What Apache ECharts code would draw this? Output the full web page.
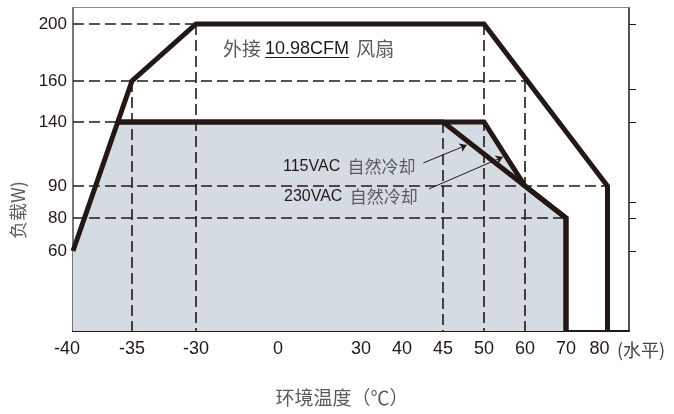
<!DOCTYPE html>
<html><head><meta charset="utf-8">
<script src="https://cdn.jsdelivr.net/npm/echarts@6/dist/echarts.min.js"></script>
<style>html,body{margin:0;padding:0;background:#fff}#c{width:674px;height:414px}</style>
</head><body><div id="c"></div>
<script>
// ---------- data ----------
const xTickLabels = [-40, -35, -30, 0, 30, 40, 45, 50, 60, 70, 80];
const xMinorTicks = [-15, 0, 15, 30, 40];
const yTickLabels = [200, 160, 140, 90, 80, 60];
const yRightTicks = [200, 156, 140, 85, 80, 60];

const fanTemp = [-40, -35, -30, 50, 80, 80];
const fanLoad = [60, 160, 200, 200, 90, 0];

const ac115Temp = [-36.2, 45, 60, 70, 70];
const ac115Load = [140, 140, 90, 80, 0];

const ac230Temp = [-36.2, 50, 60, 70, 70];
const ac230Load = [140, 140, 90, 80, 0];

const shadeTemp = [-40, -36.2, 50, 60, 70, 70];
const shadeLoad = [60, 140, 140, 90, 80, 0];

// dashed guides: [load, fromTemp, toTemp] and [temp, topLoad]
const guideH = [[200, -40, 50], [160, -40, 60], [140, -40, 50], [90, -40, 80], [80, -40, 70]];
const guideV = [[-35, 160], [-30, 200], [45, 140], [50, 200], [60, 160]];

// annotation arrows [[temp, load] start, [temp, load] tip]
const arrow115 = [[42.6, 108], [47.9, 122]];
const arrow230 = [[43.3, 89.1], [54.6, 112.7]];

// ---------- non-linear axis scale of the original figure ----------
const xWarpT = [-40, -35, -30, 0, 30, 40, 45, 50, 60, 70, 80];
const xWarpP = [0, 59, 123, 205, 288, 329, 370, 411, 452, 493, 534.5];
const yWarpW = [0, 60, 80, 90, 140, 160, 200];
const yWarpP = [0, 80, 113, 145, 209, 250, 307];
const X_MAX = 556, Y_MAX = 323.5;
function warp(v, A, B) {
  let i = 1;
  while (i < A.length - 1 && v > A[i]) i++;
  const t = (v - A[i - 1]) / (A[i] - A[i - 1]);
  return B[i - 1] + t * (B[i] - B[i - 1]);
}
const fx = t => warp(t, xWarpT, xWarpP);
const fy = w => warp(w, yWarpW, yWarpP);
const P = (T, W) => T.map((t, i) => [fx(t), fy(W[i])]);

const INK = '#231815';
const GRAY = '#5a5a5a';
const FILL = '#d4dbe3';
const LATIN = '"Liberation Sans", Arial, sans-serif';
const CJK = '"Noto Sans CJK SC", sans-serif';

function labelOf(list, f) {
  return v => {
    const m = list.find(t => Math.abs(f(t) - v) < 0.01);
    return m === undefined ? '' : String(m);
  };
}
function xLabel(v) {
  const s = labelOf(xTickLabels, fx)(v);
  if (s === '80') return '{r|' + s + '}';
  if (s === '-40') return '{l|' + s + '}';
  return s;
}

const guideLines = [];
guideH.forEach(([w, a, b]) => guideLines.push([{ coord: [fx(a), fy(w)] }, { coord: [fx(b), fy(w)] }]));
guideV.forEach(([t, w]) => guideLines.push([{ coord: [fx(t), fy(w)] }, { coord: [fx(t), fy(0)] }]));
const arrowLines = [arrow115, arrow230].map(a => [{ coord: [fx(a[0][0]), fy(a[0][1])] }, { coord: [fx(a[1][0]), fy(a[1][1])] }]);

const ctx = document.createElement('canvas').getContext('2d');
ctx.font = '18px "Liberation Sans"';
const cfmW = ctx.measureText('10.98CFM').width;

const thick = { width: 5, color: INK, join: 'miter', miterLimit: 10, cap: 'butt' };
const tickFont = { fontSize: 18, color: INK, fontFamily: LATIN };

const chart = echarts.init(document.getElementById('c'), null, { renderer: 'canvas' });
chart.setOption({
  animation: false,
  backgroundColor: '#fff',
  grid: { left: 73, right: 45, top: 7.5, bottom: 83, containLabel: false },
  xAxis: [
    {
      type: 'value', min: 0, max: X_MAX, position: 'bottom',
      axisLine: { show: true, onZero: false, lineStyle: { color: INK, width: 2 } },
      axisTick: { show: true, inside: true, length: 7, customValues: xMinorTicks.map(fx), lineStyle: { color: INK, width: 1 } },
      axisLabel: {
        customValues: xTickLabels.map(fx), formatter: xLabel, fontSize: 18, color: INK, fontFamily: LATIN, margin: 9,
        rich: {
          r: Object.assign({ padding: [0, 16, 0, 0] }, tickFont),
          l: Object.assign({ padding: [0, 12, 0, 0] }, tickFont)
        }
      },
      splitLine: { show: false }
    },
    {
      type: 'value', min: 0, max: X_MAX, position: 'top',
      axisLine: { show: true, onZero: false, lineStyle: { color: '#8a8a8a', width: 1 } },
      axisTick: { show: false }, axisLabel: { show: false }, splitLine: { show: false }
    }
  ],
  yAxis: [
    {
      type: 'value', min: 0, max: Y_MAX, position: 'left',
      axisLine: { show: true, onZero: false, lineStyle: { color: '#4a4a4a', width: 1.5 } },
      axisTick: { show: true, inside: true, length: 5, customValues: [fy(60)], lineStyle: { color: INK, width: 1 } },
      axisLabel: { customValues: yTickLabels.map(fy), formatter: labelOf(yTickLabels, fy), fontSize: 17, color: INK, fontFamily: LATIN, margin: 6 },
      splitLine: { show: false }
    },
    {
      type: 'value', min: 0, max: Y_MAX, position: 'right',
      axisLine: { show: true, onZero: false, lineStyle: { color: INK, width: 1.5 } },
      axisTick: { show: true, inside: false, length: 7, customValues: yRightTicks.map(fy), lineStyle: { color: INK, width: 1 } },
      axisLabel: { show: false }, splitLine: { show: false }
    }
  ],
  series: [
    {
      name: 'shade', type: 'line', data: P(shadeTemp, shadeLoad), symbol: 'none', silent: true,
      lineStyle: { width: 0, opacity: 0 }, areaStyle: { color: FILL, opacity: 1 }, z: 1
    },
    {
      name: 'guides', type: 'line', data: [], symbol: 'none', z: 2,
      markLine: {
        silent: true, symbol: 'none', label: { show: false }, animation: false,
        lineStyle: { type: [11, 5], width: 1.6, color: INK },
        emphasis: { disabled: true },
        data: guideLines
      }
    },
    { name: '外接10.98CFM 风扇', type: 'line', data: P(fanTemp, fanLoad), symbol: 'none', lineStyle: thick, z: 4 },
    { name: '115VAC 自然冷却', type: 'line', data: P(ac115Temp, ac115Load), symbol: 'none', lineStyle: thick, z: 4 },
    { name: '230VAC 自然冷却', type: 'line', data: P(ac230Temp, ac230Load), symbol: 'none', lineStyle: thick, z: 4 },
    {
      name: 'arrows', type: 'line', data: [], symbol: 'none', z: 5,
      markLine: {
        silent: true, symbol: ['none', 'arrow'], symbolSize: 7, label: { show: false }, animation: false,
        lineStyle: { type: 'solid', width: 1, color: INK },
        emphasis: { disabled: true },
        data: arrowLines
      }
    }
  ],
  graphic: [
    {
      type: 'text', x: 223, y: 49, z: 10,
      style: {
        text: '{c|外接}{u|10.98CFM}{d| 风扇}', verticalAlign: 'middle', align: 'left',
        rich: {
          c: { fontFamily: CJK, fontSize: 19, fill: GRAY },
          u: { fontFamily: LATIN, fontSize: 18, fill: INK, padding: [0, 0, 0, 4] },
          d: { fontFamily: CJK, fontSize: 19, fill: GRAY, padding: [0, 0, 0, 3] }
        }
      }
    },
    { type: 'line', z: 10, shape: { x1: 265, y1: 57.5, x2: 265 + cfmW, y2: 57.5 }, style: { stroke: INK, lineWidth: 1.2 } },
    {
      type: 'text', x: 283, y: 167, z: 10,
      style: {
        text: '{a|115VAC} {b|自然冷却}', verticalAlign: 'middle', align: 'left',
        rich: { a: { fontFamily: LATIN, fontSize: 16, fill: INK }, b: { fontFamily: CJK, fontSize: 17, fill: GRAY, padding: [0, 0, 0, 4] } }
      }
    },
    {
      type: 'text', x: 284, y: 197, z: 10,
      style: {
        text: '{a|230VAC} {b|自然冷却}', verticalAlign: 'middle', align: 'left',
        rich: { a: { fontFamily: LATIN, fontSize: 16, fill: INK }, b: { fontFamily: CJK, fontSize: 17, fill: GRAY, padding: [0, 0, 0, 4] } }
      }
    },
    {
      type: 'text', x: 617, y: 350, z: 10,
      style: { text: '(水平)', fontFamily: CJK, fontSize: 18, fill: '#444', verticalAlign: 'middle', align: 'left' }
    },
    {
      type: 'text', x: 342, y: 398, z: 10,
      style: { text: '环境温度（℃）', fontFamily: CJK, fontSize: 19, fill: GRAY, verticalAlign: 'middle', align: 'center' }
    },
    {
      type: 'text', x: 18, y: 210, rotation: Math.PI / 2, z: 10,
      style: { text: '负载W)', fontFamily: CJK, fontSize: 18, fill: GRAY, verticalAlign: 'middle', align: 'center' }
    }
  ]
});
</script>
</body></html>
